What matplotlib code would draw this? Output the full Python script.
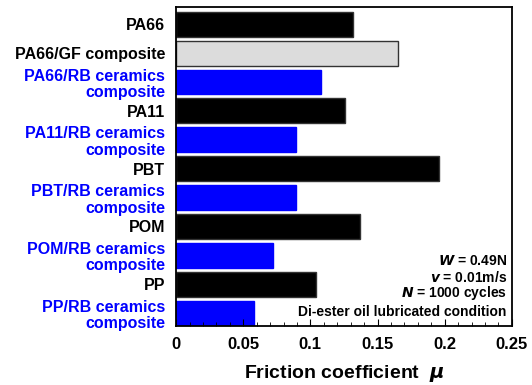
import matplotlib.pyplot as plt
from matplotlib.ticker import MultipleLocator

plt.rcParams['font.family'] = ['Liberation Sans', 'DejaVu Sans']
plt.rcParams['font.weight'] = 'bold'

# data
labels = ["PA66", "PA66/GF composite", "PA66/RB ceramics\ncomposite", "PA11",
          "PA11/RB ceramics\ncomposite", "PBT", "PBT/RB ceramics\ncomposite",
          "POM", "POM/RB ceramics\ncomposite", "PP", "PP/RB ceramics\ncomposite"]
friction = [0.132, 0.165, 0.108, 0.126, 0.089, 0.196, 0.089, 0.137, 0.072, 0.104, 0.058]
kinds = ["neat", "gf", "rb", "neat", "rb", "neat", "rb", "neat", "rb", "neat", "rb"]

fill = {"neat": "black", "gf": "#dcdcdc", "rb": "#0000ff"}
edge = {"neat": "#333333", "gf": "#333333", "rb": "#0000ff"}
label_col = {"neat": "black", "gf": "black", "rb": "#0000ff"}

fig = plt.figure(figsize=(5.32, 3.85), dpi=100)
ax = fig.add_axes([0.331, 0.153, 0.631, 0.829])

y = list(range(len(labels)))
ax.barh(y, friction, height=0.86,
        color=[fill[k] for k in kinds],
        edgecolor=[edge[k] for k in kinds], linewidth=1.0)

ax.set_ylim(len(labels) - 0.55, -0.6)
ax.set_xlim(0, 0.25)
ax.set_yticks(y)
ax.set_yticklabels(labels, fontsize=11.5, fontweight='bold', linespacing=1.12)
for t, k in zip(ax.get_yticklabels(), kinds):
    t.set_color(label_col[k])
ax.tick_params(axis='y', length=0, pad=8)

ax.xaxis.set_major_locator(MultipleLocator(0.05))
ax.xaxis.set_minor_locator(MultipleLocator(0.01))
ax.set_xticks([0, 0.05, 0.1, 0.15, 0.2, 0.25])
ax.set_xticklabels(["0", "0.05", "0.1", "0.15", "0.2", "0.25"])
ax.tick_params(axis='x', which='major', direction='in', length=5, labelsize=12, pad=8)
ax.tick_params(axis='x', which='minor', direction='in', length=3)
for lab in ax.get_xticklabels():
    lab.set_fontweight('bold')

for s in ax.spines.values():
    s.set_linewidth(1.3)

ax.set_xlabel(r"Friction coefficient  $\mathit{\mu}$", fontsize=14,
              fontweight='bold', labelpad=8)

conds = [r"$\mathbf{\mathit{W}}$ = 0.49N", r"$\mathbf{\mathit{v}}$ = 0.01m/s",
         r"$\mathbf{\mathit{N}}$ = 1000 cycles", "Di-ester oil lubricated condition"]
for i, c in enumerate(conds):
    ax.text(0.985, 0.022 + (3 - i) * 0.053, c, transform=ax.transAxes,
            ha='right', va='bottom', fontsize=10, fontweight='bold')

fig.savefig("out.png", dpi=100)
